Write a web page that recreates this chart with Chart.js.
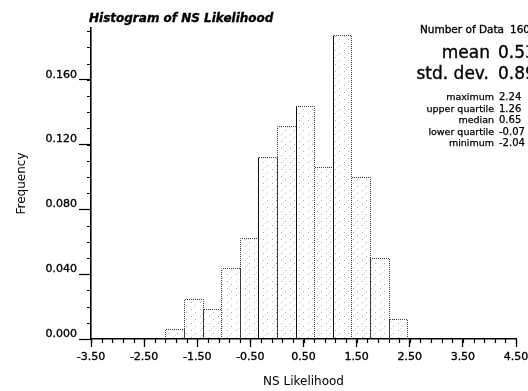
<!DOCTYPE html>
<html>
<head>
<meta charset="utf-8">
<script src="https://cdn.jsdelivr.net/npm/chart.js@4/dist/chart.umd.min.js"></script>
<style>
  html, body { margin: 0; padding: 0; background: #fff; overflow: hidden; }
  #wrap { width: 528px; height: 391px; position: relative; }
</style>
</head>
<body>
<div id="wrap"><canvas id="c" width="528" height="391"></canvas></div>
<script>
// Histogram bins (left edge of each bin, common width) and counts
const binLeftEdges = [-2.10, -1.75, -1.40, -1.05, -0.70, -0.35, 0.00, 0.35, 0.70, 1.05, 1.40, 1.75, 2.10];
const binWidth = 0.35;
const binCounts = [1, 4, 3, 7, 10, 18, 21, 23, 17, 30, 16, 8, 2];
const numberOfData = 160;

// Axis tick values
const xTickValues = [-3.5, -2.5, -1.5, -0.5, 0.5, 1.5, 2.5, 3.5, 4.5];
const yTickValues = [0.00, 0.04, 0.08, 0.12, 0.16];
const xMin = -3.5, xMax = 4.5, xMinorStep = 0.2;
const yMin = 0, yMax = 0.192, yMinorStep = 0.01;

// Summary statistics
const statMean = '0.53';
const statStdDev = '0.89';
const statSmallLabels = ['maximum', 'upper quartile', 'median', 'lower quartile', 'minimum'];
const statSmallValues = ['2.24', '1.26', '0.65', '-0.07', '-2.04'];

const FONT = '"DejaVu Sans", "Liberation Sans", Arial, sans-serif';

// bars with a solid left side instead of a dotted one
const solidLeftBars = [5, 7, 9];

// sparse grey speckle used to fill the bars
function speckle() {
  const p = document.createElement('canvas');
  p.width = 9; p.height = 7;
  const g = p.getContext('2d');
  g.fillStyle = 'rgba(110,110,110,0.55)';
  g.fillRect(2, 1, 1, 1);
  g.fillRect(6, 4, 1, 1);
  g.fillStyle = 'rgba(150,150,150,0.4)';
  g.fillRect(4, 6, 1, 1);
  return document.getElementById('c').getContext('2d').createPattern(p, 'repeat');
}

const histData = binLeftEdges.map((left, i) => ({
  x: left + binWidth / 2,
  y: binCounts[i] / numberOfData
}));

// text drawn slightly heavier, like the rest of the figure
function heavyText(ctx, text, x, y) {
  ctx.fillText(text, x, y);
  ctx.strokeText(text, x, y);
}

const decorations = {
  id: 'decorations',
  afterDatasetsDraw(chart) {
    const ctx = chart.ctx;
    const meta = chart.getDatasetMeta(0);
    ctx.save();
    ctx.lineWidth = 1;
    meta.data.forEach((el, i) => {
      const p = el.getProps(['x', 'y', 'base', 'width'], true);
      const l = Math.round(p.x - p.width / 2) + 0.5;
      const r = Math.round(p.x + p.width / 2) + 0.5;
      const t = Math.round(p.y) + 0.5;
      const b = Math.round(p.base);
      ctx.strokeStyle = '#3a3a3a';
      ctx.setLineDash([1, 1]);
      ctx.beginPath();
      ctx.moveTo(l, b); ctx.lineTo(l, t); ctx.lineTo(r, t); ctx.lineTo(r, b);
      ctx.stroke();
      if (solidLeftBars.includes(i)) {
        ctx.setLineDash([]);
        ctx.strokeStyle = '#111';
        ctx.beginPath();
        ctx.moveTo(l, b); ctx.lineTo(l, t);
        ctx.stroke();
      }
    });
    ctx.restore();
  },
  afterDraw(chart) {
    const ctx = chart.ctx;
    const xs = chart.scales.x, ys = chart.scales.y;
    const area = chart.chartArea;
    ctx.save();
    // minor ticks
    ctx.strokeStyle = '#000';
    ctx.lineWidth = 1.2;
    ctx.beginPath();
    const nx = Math.round((xMax - xMin) / xMinorStep);
    for (let i = 0; i <= nx; i++) {
      const px = Math.round(xs.getPixelForValue(xMin + i * xMinorStep)) + 0.5;
      ctx.moveTo(px, area.bottom);
      ctx.lineTo(px, area.bottom + 4);
    }
    const ny = Math.floor((yMax - yMin) / yMinorStep + 1e-9);
    for (let i = 0; i <= ny; i++) {
      const py = Math.round(ys.getPixelForValue(yMin + i * yMinorStep)) + 0.5;
      ctx.moveTo(area.left - 4, py);
      ctx.lineTo(area.left, py);
    }
    ctx.stroke();

    // title
    ctx.fillStyle = '#000';
    ctx.strokeStyle = '#000';
    ctx.lineWidth = 0.35;
    ctx.textBaseline = 'alphabetic';
    ctx.textAlign = 'left';
    ctx.font = 'italic bold 12px ' + FONT;
    heavyText(ctx, 'Histogram of NS Likelihood', 89, 21.5);

    // statistics block
    ctx.textAlign = 'right';
    ctx.font = '10.5px ' + FONT;
    heavyText(ctx, 'Number of Data', 504, 33);
    ctx.textAlign = 'left';
    heavyText(ctx, String(numberOfData), 510, 33);

    ctx.font = '17px ' + FONT;
    ctx.textAlign = 'right';
    heavyText(ctx, 'mean', 490, 58);
    heavyText(ctx, 'std. dev.', 489, 79);
    ctx.textAlign = 'left';
    heavyText(ctx, statMean, 498, 58);
    heavyText(ctx, statStdDev, 498, 79);

    ctx.lineWidth = 0.25;
    statSmallLabels.forEach((lab, i) => {
      const y = 100 + i * 11.6;
      ctx.font = '9.5px ' + FONT;
      ctx.textAlign = 'right';
      heavyText(ctx, lab, 494, y);
      ctx.font = '10px ' + FONT;
      ctx.textAlign = 'left';
      heavyText(ctx, statSmallValues[i], 499, y);
    });
    ctx.restore();
  }
};

new Chart(document.getElementById('c'), {
  type: 'bar',
  data: {
    datasets: [{
      data: histData,
      backgroundColor: speckle(),
      borderWidth: 0,
      barPercentage: 1.0,
      categoryPercentage: 1.0
    }]
  },
  options: {
    responsive: false,
    devicePixelRatio: 1,
    animation: false,
    layout: { padding: { top: 28, right: 12, left: 0, bottom: 0 } },
    plugins: { legend: { display: false }, tooltip: { enabled: false }, title: { display: false } },
    scales: {
      x: {
        type: 'linear',
        min: xMin,
        max: xMax,
        offset: false,
        afterBuildTicks: s => { s.ticks = xTickValues.map(v => ({ value: v })); },
        afterFit: s => { s.height = 52; s.paddingLeft = 0; s.paddingRight = 0; },
        grid: { display: true, drawOnChartArea: false, drawTicks: true, tickLength: 8, tickColor: '#000', tickWidth: 1.3, offset: false },
        border: { display: true, color: '#000', width: 1.6 },
        ticks: {
          autoSkip: false, maxRotation: 0, minRotation: 0, padding: 4,
          color: '#000', textStrokeColor: '#000', textStrokeWidth: 0.35,
          font: { family: FONT, size: 11 },
          callback: v => Number(v).toFixed(2)
        },
        title: { display: true, text: 'NS Likelihood', color: '#000', font: { family: FONT, size: 12 }, padding: { top: 0, bottom: 2 } }
      },
      y: {
        type: 'linear',
        min: yMin,
        max: yMax,
        afterBuildTicks: s => { s.ticks = yTickValues.map(v => ({ value: v })); },
        afterFit: s => { s.width = 91; s.paddingTop = 0; s.paddingBottom = 0; },
        grid: { display: true, drawOnChartArea: false, drawTicks: true, tickLength: 12, tickColor: '#000', tickWidth: 1.2 },
        border: { display: true, color: '#000', width: 1.6 },
        ticks: {
          padding: 2, labelOffset: -5,
          color: '#000', textStrokeColor: '#000', textStrokeWidth: 0.35,
          font: { family: FONT, size: 11 },
          callback: v => Number(v).toFixed(3)
        },
        title: { display: true, text: 'Frequency', color: '#000', font: { family: FONT, size: 12 }, padding: { top: 15, bottom: 0 } }
      }
    }
  },
  plugins: [decorations]
});
</script>
</body>
</html>
